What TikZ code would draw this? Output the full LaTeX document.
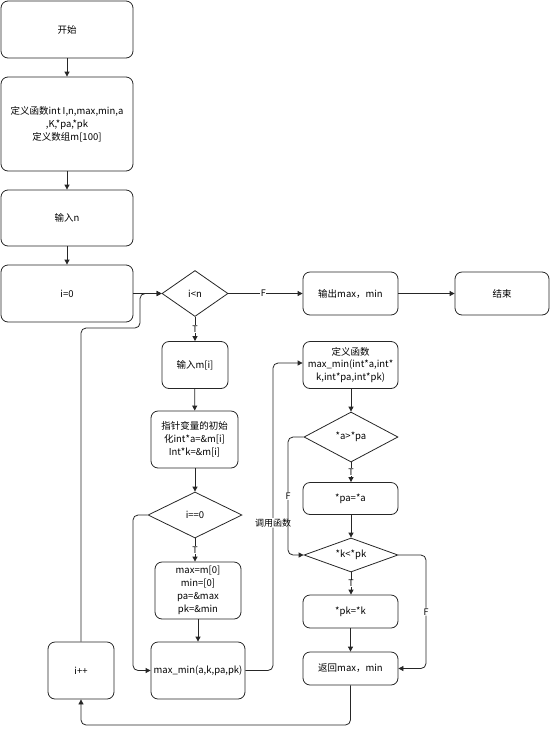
\documentclass[tikz,border=0pt]{standalone}
\usepackage{fontspec}
\setmainfont{Noto Sans CJK SC}
\usetikzlibrary{shapes.geometric,arrows.meta}
\tikzset{
  box/.style={draw=black!85, line width=0.8pt, rounded corners=7pt, align=center, inner sep=1pt, font=\fontsize{9.5}{12.8}\selectfont},
  dia/.style={draw=black!85, line width=0.8pt, diamond, inner sep=0pt, align=center, font=\fontsize{9.5}{12.8}\selectfont},
  conn/.style={draw=black!85, line width=0.8pt, -{Triangle[length=5pt,width=5pt]}},
  lab/.style={fill=white, inner sep=0.5pt, font=\fontsize{9}{10}\selectfont}
}
\begin{document}
\begin{tikzpicture}[x=1pt,y=-1pt]
\useasboundingbox (0,0) rectangle (550,729);
% left column
\node[box, minimum width=132pt, minimum height=57pt] (start) at (67,29.5) {开始};
\node[box, minimum width=132pt, minimum height=94pt] (def) at (67,124) {定义函数int I,n,max,min,a\\,K,*pa,*pk\\定义数组m[100]};
\node[box, minimum width=132pt, minimum height=56pt] (inn) at (67,218) {输入n};
\node[box, minimum width=132pt, minimum height=57pt] (i0) at (67,293.5) {i=0};
% condition row
\node[dia, minimum width=66pt, minimum height=46pt, aspect=1.43] (ilt) at (195,293.5) {i<n};
\node[box, minimum width=95pt, minimum height=43pt] (out) at (350.5,293.5) {输出max，min};
\node[box, minimum width=94pt, minimum height=43pt] (end) at (502,293.5) {结束};
% middle column
\node[box, minimum width=66pt, minimum height=47pt] (inm) at (195,365) {输入m[i]};
\node[box, minimum width=87pt, minimum height=57pt] (ptr) at (194.5,439.5) {指针变量的初始\\化int*a=\&m[i]\\Int*k=\&m[i]};
\node[dia, minimum width=94pt, minimum height=46pt, aspect=2] (ieq) at (195,515) {i==0};
\node[box, minimum width=86pt, minimum height=57pt] (mx) at (198,590.5) {max=m[0]\\min=[0]\\pa=\&max\\pk=\&min};
\node[box, minimum width=94pt, minimum height=57pt] (call) at (198,670.5) {max\_min(a,k,pa,pk)};
\node[box, minimum width=66pt, minimum height=57pt] (ipp) at (81,670.5) {i++};
% right column
\node[box, minimum width=95pt, minimum height=47pt] (fdef) at (350.5,365) {定义函数\\max\_min(int*a,int*\\k,int*pa,int*pk)};
\node[dia, minimum width=94pt, minimum height=50pt, aspect=1.9] (ca) at (351,437) {*a>*pa};
\node[box, minimum width=95pt, minimum height=32pt] (spa) at (350.5,498.5) {*pa=*a};
\node[dia, minimum width=94pt, minimum height=34pt, aspect=2.8] (ck) at (351,555) {*k<*pk};
\node[box, minimum width=95pt, minimum height=33pt] (spk) at (350.5,611.5) {*pk=*k};
\node[box, minimum width=95pt, minimum height=33pt] (ret) at (350.5,668.5) {返回max，min};
% connectors
\draw[conn] (start) -- (def);
\draw[conn] (def) -- (inn);
\draw[conn] (inn) -- (i0);
\draw[conn] (i0.east) -- (ilt.west);
\draw[conn] (ilt.south) -- node[lab] {T} (inm.north);
\draw[conn] (ilt.east) -- node[lab, pos=0.47] {F} (out.west);
\draw[conn] (out) -- (end);
\draw[conn] (inm) -- (ptr);
\draw[conn] (ptr.south -| ieq.north) -- (ieq.north);
\draw[conn] (ieq.south) -- node[lab] {T} (ieq.south |- mx.north);
\draw[conn] (mx) -- (call);
\draw[conn, rounded corners=5pt] (ieq.west) -- (133,515) -- (133,670.5) -- (call.west);
\draw[conn, rounded corners=5pt] (ipp.north) -- (81,328) -- (140,328) -- (140,293.5) -- (ilt.west);
\draw[conn, rounded corners=5pt] (call.east) -- (273,670.5) -- node[lab, pos=0.48] {调用函数} (273,363) -- (fdef.west |- 0,363);
\draw[conn] (fdef.south -| ca.north) -- (ca.north);
\draw[conn] (ca.south) -- node[lab] {T} (ca.south |- spa.north);
\draw[conn, rounded corners=5pt] (ca.west) -- (288,437) -- node[lab, pos=0.5] {F} (288,555) -- (ck.west);
\draw[conn] (spa.south -| ck.north) -- (ck.north);
\draw[conn] (ck.south) -- node[lab] {T} (ck.south |- spk.north);
\draw[conn, rounded corners=5pt] (ck.east) -- (426,555) -- node[lab, pos=0.5] {F} (426,668.5) -- (ret.east);
\draw[conn] (spk.south -| ret.north) -- (ret.north);
\draw[conn, rounded corners=5pt] (ret.south) -- (350.5,725) -- (81,725) -- (ipp.south);
\end{tikzpicture}
\end{document}
